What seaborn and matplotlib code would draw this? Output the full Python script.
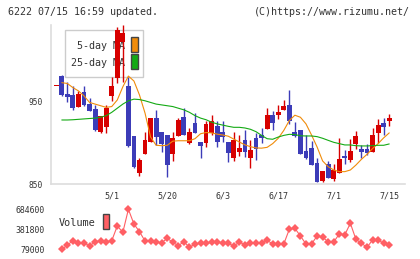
import numpy as np
import pandas as pd
import matplotlib
matplotlib.use("Agg")
import matplotlib.pyplot as plt
import seaborn as sns
from matplotlib.patches import Rectangle

# daily prices (index 0 = first candle)
opens = [969, 981, 959, 958, 943, 962, 947, 941, 913, 919,
         957, 979, 1022, 969, 908, 863, 887, 901, 930, 913,
         909, 887, 908, 931, 900, 924, 901, 900, 912, 920,
         913, 901, 881, 889, 903, 881, 906, 909, 917, 934,
         934, 940, 946, 913, 916, 890, 894, 875, 854, 874,
         856, 863, 884, 879, 899, 892, 892, 889, 912, 924, 927]
highs = [969, 982, 974, 969, 963, 969, 954, 946, 933, 946,
         980, 1040, 1043, 980, 908, 882, 913, 930, 940, 913,
         909, 913, 930, 942, 918, 936, 901, 926, 934, 926,
         926, 901, 913, 909, 915, 903, 912, 918, 942, 939,
         946, 952, 964, 925, 916, 909, 902, 882, 866, 878,
         874, 906, 891, 905, 914, 897, 899, 918, 929, 930, 935]
lows = [969, 957, 949, 940, 943, 945, 939, 914, 912, 912,
        951, 973, 974, 895, 869, 860, 886, 901, 897, 889,
        859, 878, 908, 909, 899, 912, 882, 895, 909, 895,
        901, 877, 878, 884, 883, 870, 879, 900, 917, 916,
        929, 940, 923, 907, 886, 880, 873, 852, 852, 857,
        854, 863, 874, 877, 892, 881, 885, 889, 900, 909, 920]
closes = [969, 958, 955, 942, 959, 946, 939, 915, 933, 942,
          969, 1037, 1033, 896, 871, 879, 903, 930, 907, 898,
          873, 906, 928, 909, 913, 912, 896, 923, 926, 901,
          907, 888, 903, 894, 889, 891, 892, 906, 934, 924,
          937, 945, 927, 908, 886, 882, 873, 853, 866, 857,
          867, 880, 882, 890, 908, 889, 888, 909, 922, 919, 930]

# moving averages as drawn on the chart
ma5 = [np.nan, 973, 972, 967, 963, 957, 949, 947, 945, 943,
       944, 952, 968, 981, 975, 958, 936, 907, 897, 896.5,
       897, 902, 902.5, 902.5, 902.5, 905, 911, 912.5, 912, 910.5,
       909.5, 908, 904.5, 901, 897.5, 895.3, 893.8, 893.5, 894.5, 899,
       905.5, 915, 927, 933.5, 931, 923, 909.5, 895, 878, 871,
       867, 865, 865, 867, 873, 880, 886, 893, 899, 906, 912]
ma25 = [np.nan, 927.7, 927.7, 928, 928.5, 929, 929.5, 930, 931, 933,
        937, 942, 947, 951, 953, 952.5, 951, 949, 947, 946,
        945, 944, 942, 940, 937, 933, 930, 928, 925, 923,
        921.5, 920, 918.8, 918.8, 918, 916.4, 913.5, 909, 905, 904.3,
        907, 909, 910.3, 910, 908.5, 908.3, 908.3, 907.5, 905.5, 903,
        900.6, 899, 897.4, 897.4, 896.5, 896.2, 896.2, 896.5, 897, 897, 898.6]

volume = [np.nan, 79000, 146800, 211600, 181400, 181400, 131700, 196500, 211600, 196500,
          211600, 433000, 338100, 684600, 463200, 347200, 207000, 207000, 187500, 181400,
          247700, 187500, 136200, 196500, 112100, 161900, 172400, 172400, 187500, 187500,
          181400, 172400, 131700, 192000, 146800, 172400, 172400, 172400, 217600, 161900,
          161900, 161900, 383300, 398400, 282400, 161900, 161900, 282400, 267300, 192000,
          192000, 312500, 302000, 473700, 232700, 172400, 112100, 222100, 222100, 172400, 142300]

date_idx = [10, 20, 30, 40, 50, 60]
date_labels = ["5/1", "5/20", "6/3", "6/17", "7/1", "7/15"]

df = pd.DataFrame({"open": opens, "high": highs, "low": lows, "close": closes,
                   "ma5": ma5, "ma25": ma25, "volume": volume})
df["idx"] = np.arange(len(df))

RED = "#d70000"
BLUE = "#3c3cb8"
ORANGE = "#f08c0a"
GREEN = "#14aa14"
VOLC = "#ff5f64"
GRID = "#dddddd"
TXT = "#333333"

sns.set_style("white")
plt.rcParams["font.family"] = ["DejaVu Sans Mono"]

W, H = 420, 259
fig = plt.figure(figsize=(W / 100, H / 100), dpi=100)
ax = fig.add_axes([50.7 / W, 1 - 184 / H, 354.6 / W, 159 / H])
vax = fig.add_axes([50.7 / W, 1 - 254 / H, 354.6 / W, 49 / H])

xmin, xmax = -1.0, 62.9

# legend box drawn under the candles
ax.add_patch(Rectangle((0.0412, 0.671), 0.22, 0.2976, transform=ax.transAxes,
                       facecolor="white", edgecolor="#cccccc", lw=1, zorder=1))
ax.text(0.2083, 0.868, "5-day MA", transform=ax.transAxes, ha="right", va="center",
        fontsize=7.2, color=TXT, zorder=1.5)
ax.text(0.2083, 0.763, "25-day MA", transform=ax.transAxes, ha="right", va="center",
        fontsize=7.2, color=TXT, zorder=1.5)
ax.add_patch(Rectangle((0.2265, 0.830), 0.019, 0.094, transform=ax.transAxes,
                       facecolor=ORANGE, edgecolor="#444444", lw=1, zorder=1.5))
ax.add_patch(Rectangle((0.2265, 0.723), 0.019, 0.094, transform=ax.transAxes,
                       facecolor=GREEN, edgecolor="#444444", lw=1, zorder=1.5))

# candles
up = df["close"] >= df["open"]
cols = np.where(up, RED, BLUE)
body_lo = df[["open", "close"]].min(axis=1)
body_h = (df["close"] - df["open"]).abs().clip(lower=1.0)
ax.vlines(df["idx"], df["low"], df["high"], colors=cols, lw=1.0, zorder=3)
ax.bar(df["idx"], body_h, bottom=body_lo, width=0.87, color=cols, lw=0, zorder=3)

sns.lineplot(data=df, x="idx", y="ma5", ax=ax, color=ORANGE, lw=0.8, zorder=4)
sns.lineplot(data=df, x="idx", y="ma25", ax=ax, color=GREEN, lw=0.8, zorder=4)

ax.set_xlim(xmin, xmax)
ax.set_ylim(850, 1043)
ax.set_xlabel("")
ax.set_ylabel("")
for s in ["top", "right"]:
    ax.spines[s].set_visible(False)
for s in ["left", "bottom"]:
    ax.spines[s].set_color(GRID)
    ax.spines[s].set_linewidth(1.2)
ax.set_xticks(date_idx)
ax.set_xticklabels(date_labels)
ax.set_xticks(np.linspace(xmin, xmax, 12), minor=True)
ax.tick_params(axis="x", which="major", length=0, pad=5.5, labelsize=6, labelcolor=TXT)
ax.tick_params(axis="x", which="minor", length=3.6, width=1.2, color=GRID, direction="out")
ax.set_yticks([850, 950])
ax.set_yticklabels(["850", "950"])
ax.tick_params(axis="y", length=5.8, width=1.2, color=GRID, direction="inout",
               pad=3, labelsize=5.7, labelcolor=TXT)

# volume panel
sns.lineplot(data=df, x="idx", y="volume", ax=vax, color=VOLC, lw=0.8,
             marker="D", markersize=3.8, markeredgewidth=0)
vmin, vmax = np.nanmin(volume), np.nanmax(volume)
vax.set_xlim(xmin, xmax)
vax.set_ylim(vmin - 4.5 * 15065, vmax + 4.3 * 15065)
vax.set_yticks([vmin, (vmin + vmax) / 2, vmax])
vax.set_yticklabels([f"{int(v)}" for v in [vmin, (vmin + vmax) / 2, vmax]])
vax.set_xticks([])
vax.set_xlabel("")
vax.set_ylabel("")
for s in vax.spines.values():
    s.set_visible(False)
vax.tick_params(axis="y", length=0, pad=4.3, labelsize=5.9, labelcolor=TXT)

fig.text(59 / W, 1 - 223 / H, "Volume", ha="left", va="center", fontsize=7.4, color=TXT)
fig.add_artist(Rectangle((103 / W, 1 - 229 / H), 6 / W, 15 / H, transform=fig.transFigure,
                         facecolor=VOLC, edgecolor="#444444", lw=1))

fig.text(8 / W, 1 - 12.3 / H, "6222 07/15 16:59 updated.", ha="left", va="center",
         fontsize=7.2, color=TXT)
fig.text(410 / W, 1 - 12.3 / H, "(C)https://www.rizumu.net/", ha="right", va="center",
         fontsize=7.2, color=TXT)

fig.savefig("out.png", dpi=100)
